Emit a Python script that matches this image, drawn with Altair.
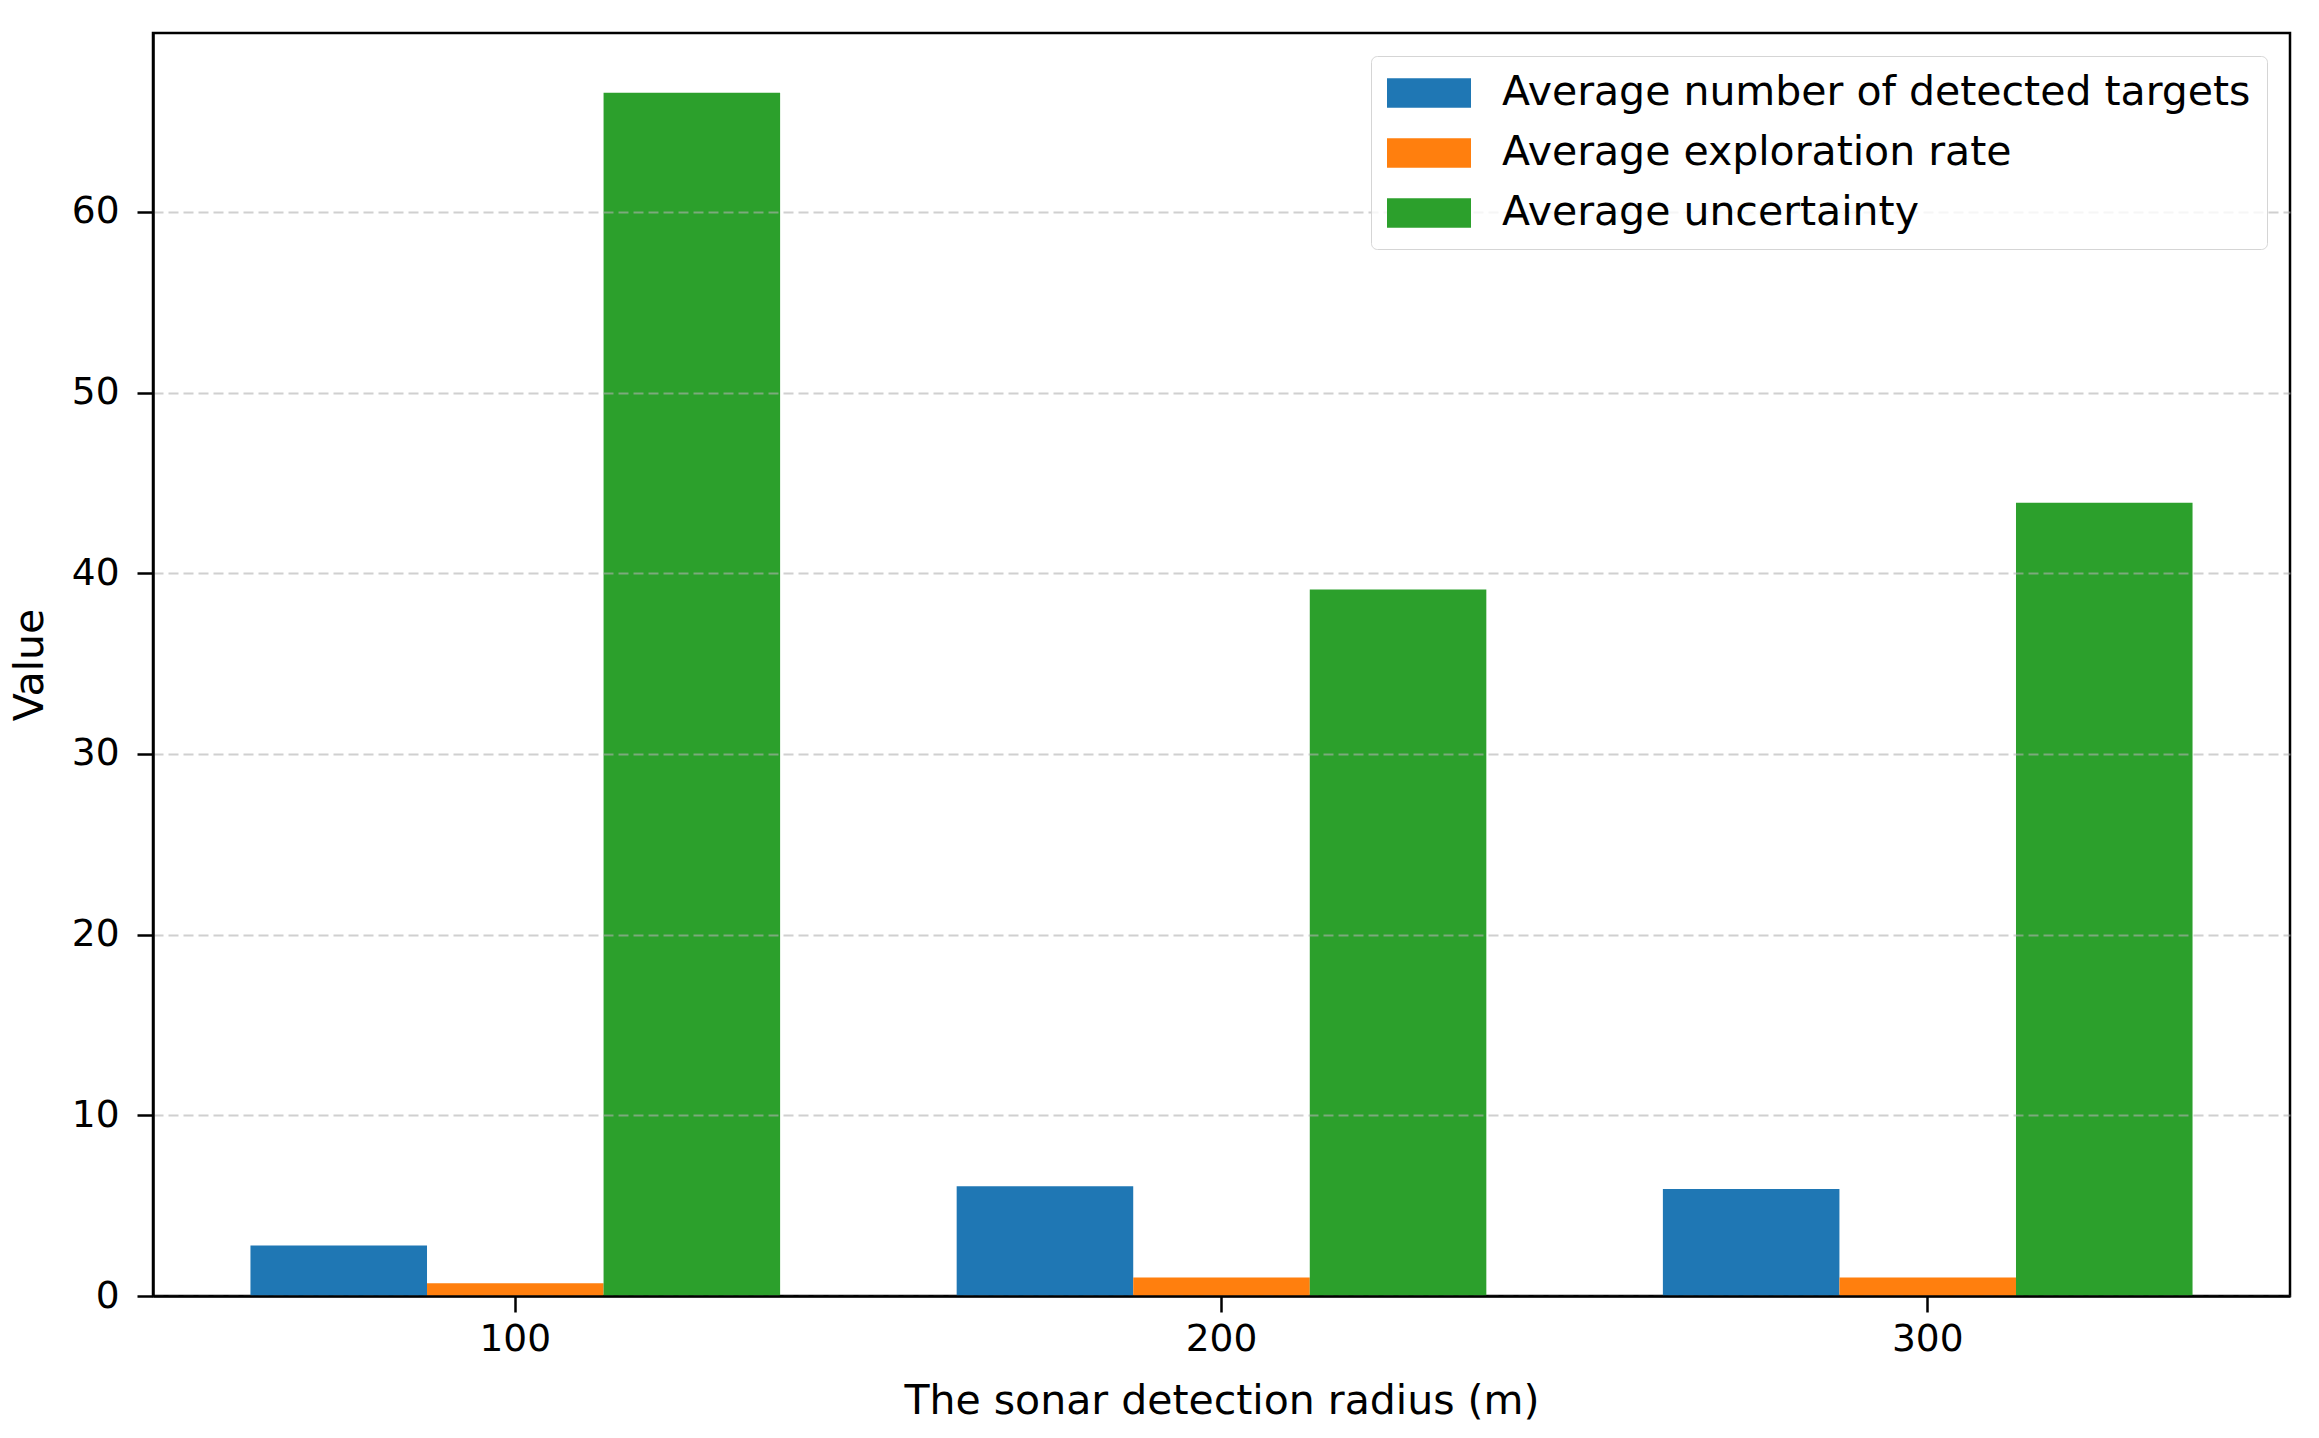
import altair as alt
import pandas as pd

radii = ["100", "200", "300"]
series = ["Average number of detected targets", "Average exploration rate", "Average uncertainty"]
targets = [2.8, 6.08, 5.92]
exploration = [0.70, 1.03, 1.03]
uncertainty = [66.6, 39.1, 43.9]
colors = ["#1f77b4", "#ff7f0e", "#2ca02c"]
y_ticks = [0, 10, 20, 30, 40, 50, 60]

rows = []
for i, r in enumerate(radii):
    for s, vals in zip(series, [targets, exploration, uncertainty]):
        rows.append({"radius": r, "series": s, "value": vals[i]})
df = pd.DataFrame(rows)

FONT = "DejaVu Sans"
FS = 37.5
FS_T = 41

chart = alt.Chart(df).mark_bar().encode(
    x=alt.X(
        "radius:N", sort=radii, title="The sonar detection radius (m)",
        scale=alt.Scale(paddingInner=0.25, paddingOuter=0.138),
        axis=alt.Axis(labelAngle=0, zindex=1, domainColor="black", domainWidth=2.5,
                      tickColor="black", tickWidth=2.5, tickSize=16, labelPadding=8,
                      titlePadding=24),
    ),
    xOffset=alt.XOffset("series:N", sort=series, scale=alt.Scale(paddingInner=0, paddingOuter=0)),
    y=alt.Y(
        "value:Q", title="Value",
        scale=alt.Scale(domain=[0, 69.9], nice=False, zero=True),
        axis=alt.Axis(values=y_ticks, grid=True, gridDash=[10, 5], gridColor="#b0b0b0",
                      gridOpacity=0.6, gridWidth=2, zindex=1, domainColor="black",
                      domainWidth=2.5, tickColor="black", tickWidth=2.5, tickSize=16,
                      labelPadding=18, titlePadding=20),
    ),
    color=alt.Color(
        "series:N", sort=series,
        scale=alt.Scale(domain=series, range=colors),
        legend=alt.Legend(
            title=None, orient="none", legendX=1218, legendY=23, direction="vertical",
            fillColor="rgba(255,255,255,0.8)", strokeColor="#d5d5d5", cornerRadius=6,
            padding=16, symbolType="M-2,-0.7L2,-0.7L2,0.7L-2,0.7Z", symbolSize=1764,
            symbolOffset=21, symbolStrokeWidth=0, symbolOpacity=1,
            labelFont=FONT, labelFontSize=FS_T, labelColor="black", labelOffset=52,
            labelLimit=2000, rowPadding=19, zindex=2,
        ),
    ),
).properties(
    width=2137, height=1263,
    autosize=alt.AutoSizeParams(type="none"),
    padding={"left": 145, "top": 25, "right": 21, "bottom": 132},
).configure_axis(
    labelFont=FONT, labelFontSize=FS, labelColor="black",
    titleFont=FONT, titleFontSize=FS_T, titleColor="black", titleFontWeight="normal",
).configure_view(
    stroke="black", strokeWidth=2.5,
)

chart.save("out.html", embed_options={"renderer": "svg", "actions": False})
